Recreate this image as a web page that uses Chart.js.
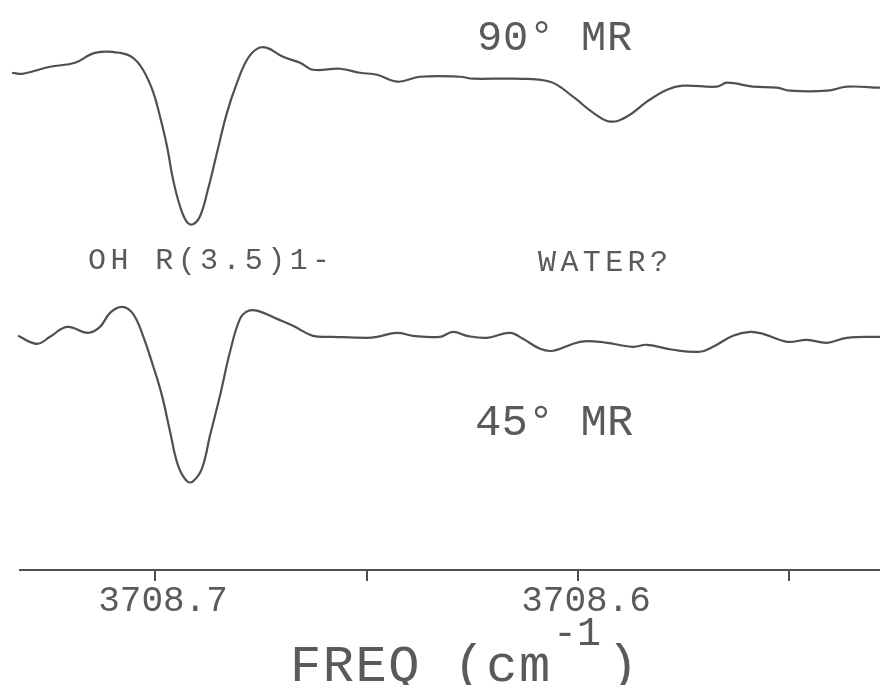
<!DOCTYPE html>
<html><head><meta charset="utf-8">
<script src="https://cdn.jsdelivr.net/npm/chart.js@4.4.0/dist/chart.umd.min.js"></script>
<style>html,body{margin:0;padding:0;background:#fff}canvas{display:block}</style>
</head><body>
<canvas id="c" width="880" height="685"></canvas>
<script>
// Frequency (cm^-1) and signal (arbitrary units, relative to each trace's baseline)
const freq90 = [3708.73381,3708.73121,3708.72482,3708.71891,3708.71418,3708.70827,3708.70520,3708.70284,3708.70047,3708.69882,3708.69716,3708.69574,3708.69409,3708.69243,3708.69102,3708.68936,3708.68747,3708.68534,3708.68298,3708.68061,3708.67825,3708.67589,3708.67352,3708.66974,3708.66572,3708.66265,3708.65626,3708.65154,3708.64752,3708.64255,3708.63735,3708.62790,3708.62482,3708.61537,3708.60662,3708.60118,3708.59645,3708.59243,3708.58841,3708.58369,3708.57896,3708.57518,3708.56714,3708.56477,3708.55863,3708.55295,3708.54988,3708.54113,3708.53640,3708.52860];
const signal90 = [0.07,0.06,0.13,0.17,0.27,0.27,0.22,0.10,-0.12,-0.37,-0.67,-1.00,-1.27,-1.43,-1.45,-1.37,-1.10,-0.73,-0.33,-0.03,0.20,0.31,0.32,0.23,0.17,0.10,0.11,0.07,0.05,-0.02,0.03,0.03,0.01,0.01,-0.02,-0.17,-0.33,-0.42,-0.37,-0.22,-0.10,-0.06,-0.07,-0.03,-0.07,-0.08,-0.11,-0.11,-0.07,-0.08];
const freq45 = [3708.73239,3708.72790,3708.72482,3708.72080,3708.71584,3708.71300,3708.71064,3708.70780,3708.70520,3708.70284,3708.70047,3708.69835,3708.69645,3708.69456,3708.69243,3708.69102,3708.68889,3708.68700,3708.68463,3708.68227,3708.67991,3708.67801,3708.67565,3708.67116,3708.66738,3708.66265,3708.65792,3708.64988,3708.64752,3708.64279,3708.63901,3708.63262,3708.62955,3708.62624,3708.62151,3708.61607,3708.61300,3708.60898,3708.60591,3708.59953,3708.59480,3708.58700,3708.58369,3708.57754,3708.57116,3708.56808,3708.56336,3708.55934,3708.55626,3708.55059,3708.54586,3708.54113,3708.53640,3708.52860];
const signal45 = [0.01,-0.07,0.00,0.10,0.04,0.10,0.24,0.30,0.23,0.01,-0.29,-0.59,-0.95,-1.29,-1.45,-1.45,-1.32,-0.99,-0.59,-0.15,0.18,0.26,0.26,0.18,0.11,0.01,0.00,-0.01,0.00,0.04,0.01,0.00,0.05,0.01,-0.01,0.04,-0.02,-0.12,-0.14,-0.05,-0.05,-0.10,-0.08,-0.13,-0.15,-0.10,0.01,0.05,0.03,-0.05,-0.03,-0.06,-0.01,0.00];
const offset90 = 4.92;
const offset45 = 2.34;
const tickValues = [3708.55, 3708.60, 3708.65, 3708.70];
const labeledTicks = ['3708.7', '3708.6'];
const xMin = 3708.5286, xMax = 3708.73192;
const yMin = 0, yMax = 5.72;

const INK = '#505050';
const TEXT_INK = '#5a5a5a';
const FONT = "'Liberation Mono', 'DejaVu Sans Mono', monospace";

// Text annotations anchored in data units (frequency, signal axis)
const notes = [
  {text: '90\u00B0 MR', f: 3708.62388, v: 5.22, size: 42, spacing: 0.8},
  {text: 'OH R(3.5)1-', f: 3708.71584, v: 3.02, size: 30, spacing: 4.4},
  {text: 'WATER?', f: 3708.60946, v: 3.00, size: 30, spacing: 4.4},
  {text: '45\u00B0 MR', f: 3708.62435, v: 1.35, size: 44, spacing: 0},
  {text: 'FREQ (cm', f: 3708.66808, v: -1.11, size: 52, spacing: 1.5},
  {text: '-1', f: 3708.60591, v: -0.75, size: 40, spacing: 0},
  {text: ')', f: 3708.59314, v: -1.11, size: 52, spacing: 0}
];

const toPoints = (fs, vs, off) => fs.map((f, i) => ({x: f, y: vs[i] + off}));

const notesPlugin = {
  id: 'notes',
  afterDraw(chart) {
    const {ctx} = chart;
    const xs = chart.scales.x, ys = chart.scales.y;
    ctx.save();
    ctx.fillStyle = TEXT_INK;
    ctx.textAlign = 'left';
    ctx.textBaseline = 'alphabetic';
    notes.forEach(n => {
      ctx.font = n.size + 'px ' + FONT;
      ctx.letterSpacing = n.spacing + 'px';
      ctx.fillText(n.text, xs.getPixelForValue(n.f), ys.getPixelForValue(n.v));
    });
    ctx.restore();
  }
};

new Chart(document.getElementById('c'), {
  type: 'line',
  data: {
    datasets: [
      {label: '90\u00B0 MR', data: toPoints(freq90, signal90, offset90)},
      {label: '45\u00B0 MR', data: toPoints(freq45, signal45, offset45)}
    ].map(d => Object.assign(d, {
      borderColor: INK, borderWidth: 2.2, pointRadius: 0, fill: false,
      tension: 0.4, clip: false
    }))
  },
  options: {
    responsive: false,
    animation: false,
    layout: {padding: {left: 20, right: 0, top: 0, bottom: 64}},
    plugins: {legend: {display: false}, tooltip: {enabled: false}},
    scales: {
      x: {
        type: 'linear', reverse: true, min: xMin, max: xMax,
        afterBuildTicks: s => { s.ticks = tickValues.map(v => ({value: v})); },
        border: {display: true, color: INK, width: 2},
        grid: {display: true, drawOnChartArea: false, drawTicks: true, tickLength: 11, color: INK, lineWidth: 2},
        ticks: {
          autoSkip: false, maxRotation: 0, padding: 2, labelOffset: 8,
          color: TEXT_INK, font: {family: FONT, size: 36, lineHeight: 1},
          callback: v => { const s = v.toFixed(1); return (labeledTicks.includes(s) && Math.abs(v - Number(s)) < 1e-6) ? s : ''; }
        }
      },
      y: {type: 'linear', display: false, min: yMin, max: yMax}
    }
  },
  plugins: [notesPlugin]
});
</script>
</body></html>
